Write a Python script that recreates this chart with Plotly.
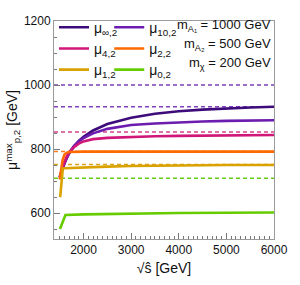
import plotly.graph_objects as go

# --- data ---
x_range = [1380, 6000]
y_range = [519, 1200]

x_big = [1500, 1550, 1600, 1650, 1700, 1800, 1900, 2000, 2200, 2500, 3000, 3500, 4000, 4500, 5000, 5500, 6000]
mu_inf = [712, 735, 755, 772, 787, 808, 825, 838, 858, 878, 898, 910, 918, 923, 927, 930, 932]
mu_10 = [712, 736, 757, 774, 789, 810, 824, 834, 849, 863, 875, 880, 884, 886, 888, 889, 890]
mu_4 = [712, 737, 759, 777, 790, 806, 817, 824, 831, 835, 838, 840, 841, 842, 843, 843, 844]

x_mu2 = [1500, 1530, 1560, 1600, 1650, 1700, 2000, 3000, 4000, 5000, 6000]
mu_2 = [705, 740, 765, 783, 789, 791, 792, 792, 792, 792, 792]

x_mu1 = [1510, 1525, 1540, 1555, 1565, 1600, 2000, 2500, 3000, 4000, 5000, 6000]
mu_1 = [650, 672, 695, 718, 739, 740, 743, 745, 747, 749, 750, 750]

x_mu0 = [1505, 1560, 1620, 2000, 3000, 4000, 5000, 6000]
mu_0 = [550, 572, 594, 596, 599, 600, 601, 602]

levels = [1000, 932, 853, 792, 752, 709]
level_colors = ["#7a3fb8", "#8240c0", "#d4448a", "#ff7a20", "#dca21a", "#66cc11"]

names = ["μ<sub>∞,2</sub>", "μ<sub>10,2</sub>", "μ<sub>4,2</sub>", "μ<sub>2,2</sub>", "μ<sub>1,2</sub>", "μ<sub>0,2</sub>"]
colors = ["#3e0b7a", "#6c1cae", "#d01779", "#ff6a00", "#d9a200", "#66cc00"]
series_x = [x_big, x_big, x_big, x_mu2, x_mu1, x_mu0]
series_y = [mu_inf, mu_10, mu_4, mu_2, mu_1, mu_0]
legend_ids = ["legend", "legend2", "legend", "legend2", "legend", "legend2"]

annot_lines = ["m<sub>A₁</sub> = 1000 GeV", "m<sub>A₂</sub> = 500 GeV", "m<sub>χ</sub> = 200 GeV"]

FONT = "Liberation Sans, Arial, sans-serif"

fig = go.Figure()

# dashed reference levels
for lv, c in zip(levels, level_colors):
    fig.add_trace(go.Scatter(x=x_range, y=[lv, lv], mode="lines",
                             line=dict(color=c, width=1.5, dash="4px,3px"),
                             showlegend=False, hoverinfo="skip"))

# curves
for xs, ys, nm, c, lg in zip(series_x, series_y, names, colors, legend_ids):
    fig.add_trace(go.Scatter(x=xs, y=ys, mode="lines", name=nm,
                             line=dict(color=c, width=2.6), legend=lg))

# annotations (right top)
ann_y = [0.979, 0.893, 0.807]
for t, yy in zip(annot_lines, ann_y):
    fig.add_annotation(text=t, xref="paper", yref="paper", x=0.995, y=yy,
                       xanchor="right", yanchor="middle", showarrow=False,
                       font=dict(family=FONT, size=13, color="#111"))

axis_common = dict(showline=True, linecolor="#9a9a9a", linewidth=1, mirror=True,
                   ticks="inside", ticklen=6, tickcolor="#777", showgrid=False,
                   zeroline=False, tickfont=dict(family=FONT, size=12, color="#111"))

fig.update_xaxes(range=x_range, tickvals=[2000, 3000, 4000, 5000, 6000],
                 minor=dict(ticks="inside", ticklen=3, dtick=100, tick0=0, tickcolor="#777"),
                 title=dict(text="√ŝ [GeV]", font=dict(family=FONT, size=14, color="#111"), standoff=6),
                 **axis_common)
fig.update_yaxes(range=y_range, tickvals=[600, 800, 1000, 1200],
                 minor=dict(ticks="inside", ticklen=3, dtick=50, tick0=0, tickcolor="#777"),
                 title=dict(text="μ<sup>max</sup><sub>p,2</sub> [GeV]",
                            font=dict(family=FONT, size=14, color="#111"), standoff=2),
                 **axis_common)

leg_common = dict(bgcolor="rgba(0,0,0,0)", font=dict(family=FONT, size=14, color="#111"),
                  yanchor="top", xanchor="left", tracegroupgap=0)
fig.update_layout(
    width=300, height=285,
    margin=dict(l=54, r=15, t=14, b=38),
    paper_bgcolor="white", plot_bgcolor="white",
    font=dict(family=FONT),
    legend=dict(x=0.0, y=1.043, **leg_common),
    legend2=dict(x=0.251, y=1.043, **leg_common),
)

fig.write_html("out.html", config={"displayModeBar": False},
               post_script="document.body.style.margin='0';document.body.style.padding='0';")
